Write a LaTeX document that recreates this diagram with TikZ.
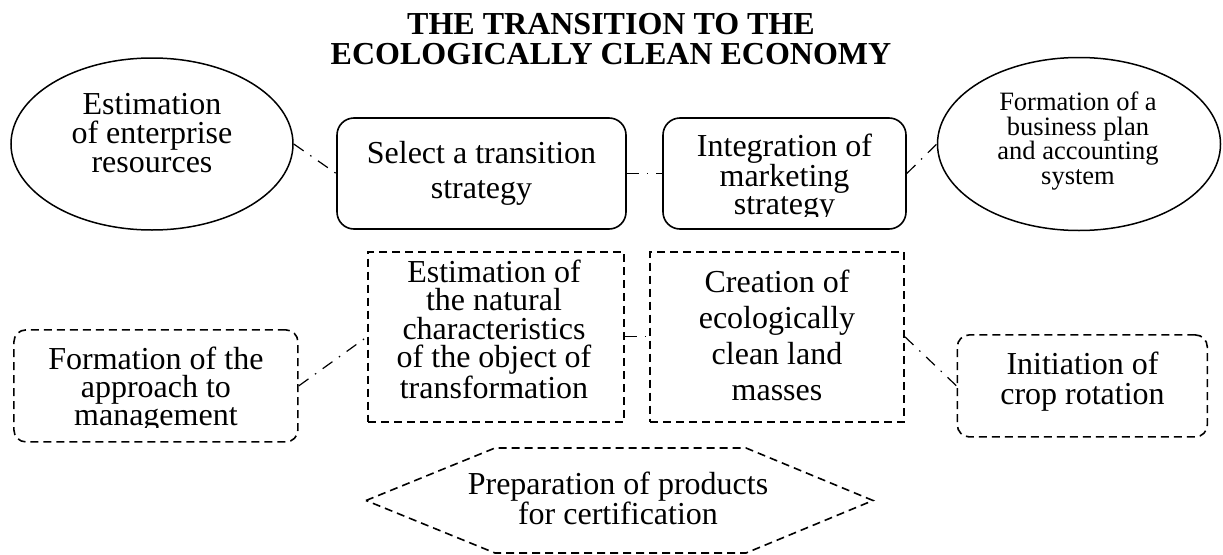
\documentclass[tikz,border=0pt]{standalone}
\usepackage{fontspec}
\setmainfont{Liberation Serif}
\usetikzlibrary{shapes.geometric}
\newcommand{\myfs}[2]{\fontsize{#1}{#2}\selectfont}
\begin{document}
\begin{tikzpicture}[x=1pt,y=-1pt,
  txt/.style={align=center, inner sep=0pt},
  ellbox/.style={draw, ellipse, line width=1.5pt, inner sep=0pt},
  solidbox/.style={draw, rectangle, line width=1.6pt, rounded corners=17pt, inner sep=0pt},
  dashbox/.style={draw, rectangle, line width=1.6pt, dash pattern=on 8pt off 5pt, inner sep=0pt},
  dashround/.style={dashbox, rounded corners=12pt},
  link/.style={draw, line width=1.2pt, dash pattern=on 12pt off 8pt on 1.5pt off 8pt}]
\useasboundingbox (0,0) rectangle (1223,554);

% title
\node[txt, font=\myfs{32}{30}\bfseries] (title) at (611,39.5) {THE TRANSITION TO THE\\ECOLOGICALLY CLEAN ECONOMY};

% top row
\node[ellbox, minimum width=282, minimum height=172] (eL) at (152,144) {};
\node[txt, font=\myfs{32}{29}] (eLt) at (152,133.5) {Estimation\\of enterprise\\resources};

\node[solidbox, minimum width=289, minimum height=111] (selB) at (481.5,173.5) {};
\node[txt, font=\myfs{32}{35}] (selT) at (481.5,173.5) {Select a transition\\strategy};

\node[solidbox, minimum width=243, minimum height=111] (intB) at (784.5,173.5) {};
\begin{scope}
  \clip (663,118) rectangle (906,216.5);
  \node[txt, font=\myfs{32}{28.5}] (intT) at (784.5,177.5) {Integration of\\marketing\\strategy};
\end{scope}

\node[ellbox, minimum width=283, minimum height=173] (eR) at (1079,144) {};
\node[txt, font=\myfs{26.5}{24.7}] (eRt) at (1078,141) {Formation of a\\business plan\\and accounting\\system};

% middle row
\node[dashround, minimum width=284, minimum height=112] (apB) at (155.9,385.9) {};
\begin{scope}
  \clip (14,330) rectangle (298,427.5);
  \node[txt, font=\myfs{32}{28.3}] (apT) at (155.9,389.7) {Formation of the\\approach to\\management};
\end{scope}

\node[dashbox, minimum width=256, minimum height=170] (esB) at (496,336.7) {};
\node[txt, font=\myfs{32}{28.5}] (esT) at (494,329) {Estimation of\\the natural\\characteristics\\of the object of\\transformation};

\node[dashbox, minimum width=254, minimum height=170] (crB) at (777,336.7) {};
\node[txt, font=\myfs{32}{36}] (crT) at (777,335.3) {Creation of\\ecologically\\clean land\\masses};

\node[dashround, minimum width=250, minimum height=102] (inB) at (1082.3,385.9) {};
\node[txt, font=\myfs{32}{30}] (inT) at (1082.5,381.3) {Initiation of\\crop rotation};

% bottom hexagon
\draw[line width=1.6pt, dash pattern=on 8pt off 5pt]
  (366,500.5) -- (495,448) -- (746,448) -- (873,500.5) -- (746,553) -- (495,553) -- cycle;
\node[txt, font=\myfs{32}{28}] (hxT) at (618,498.5) {Preparation of products\\for certification};

% connectors
\draw[link] (eL.east) -- (selB.west);
\draw[link] (selB.east) -- (intB.west);
\draw[link] (intB.east) -- (eR.west);
\draw[link] (apB.east) -- (esB.west);
\draw[link] (esB.east) -- (crB.west);
\draw[link] (crB.east) -- (inB.west);
\end{tikzpicture}
\end{document}
